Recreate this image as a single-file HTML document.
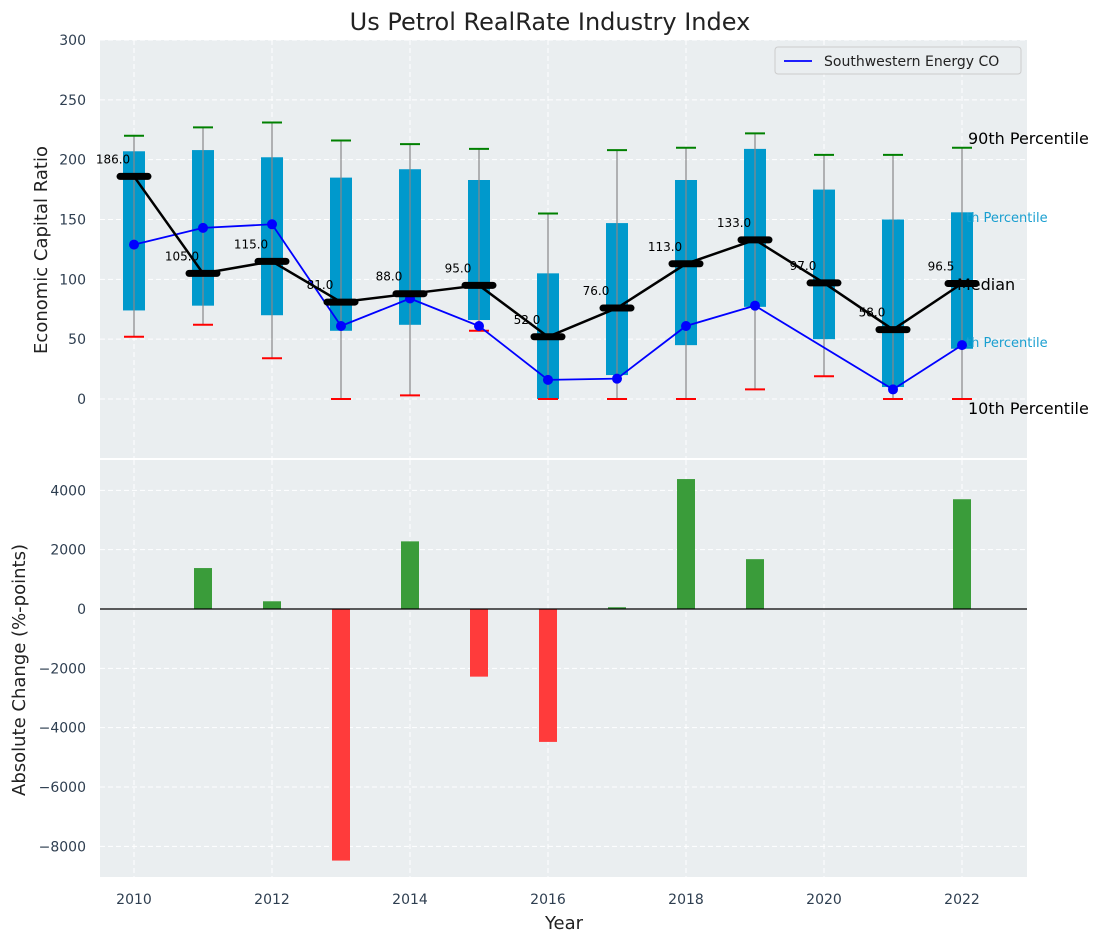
<!DOCTYPE html>
<html><head><meta charset="utf-8"><style>
body{margin:0;background:#fff;font-family:"Liberation Sans","DejaVu Sans",sans-serif;}
svg text{font-family:"DejaVu Sans","Liberation Sans",sans-serif;}
</style></head><body>
<svg id="c" width="1103" height="942" xmlns="http://www.w3.org/2000/svg"></svg>
<script>
const years=[2010,2011,2012,2013,2014,2015,2016,2017,2018,2019,2020,2021,2022];
const p10=[52,62,34,0,3,57,0,0,0,8,19,0,0];
const p90=[220,227,231,216,213,209,155,208,210,222,204,204,210];
const p25=[74,78,70,57,62,66,0,20,45,77,50,10,42];
const p75=[207,208,202,185,192,183,105,147,183,209,175,150,156];
const medians=[186,105,115,81,88,95,52,76,113,133,97,58,96.5];
const company=[129,143,146,61,84,61,16,17,61,78,null,8,45];
const changes=[0,1380,260,-8480,2280,-2280,-4480,60,4380,1680,0,0,3700];
const yTicksTop=[0,50,100,150,200,250,300];
const yTicksBot=[-8000,-6000,-4000,-2000,0,2000,4000];
const xTicks=[2010,2012,2014,2016,2018,2020,2022];

const NS="http://www.w3.org/2000/svg";
const svg=document.getElementById('c');
function el(t,a,txt){const e=document.createElementNS(NS,t);for(const k in a)e.setAttribute(k,a[k]);if(txt!==undefined)e.textContent=txt;svg.appendChild(e);return e;}
const X=y=>134+(y-2010)*69;
const L=100,R=1027;
const yT=v=>399-v*1.1967;
const yB=v=>609-v*0.029667;

let e;
e=el('rect',{x:L,y:40,width:R-L,height:418,fill:'#eaeef0'});

e=el('rect',{x:L,y:460,width:R-L,height:417,fill:'#eaeef0'});


yTicksTop.forEach(v=>{
  e=el('line',{x1:L,x2:R,y1:yT(v),y2:yT(v),stroke:'#fff','stroke-dasharray':'5,3','stroke-width':1});
  
  e=el('text',{x:L-14,y:yT(v)+5,'text-anchor':'end','font-size':14,fill:'#2e3e50'},v);
  
});
yTicksBot.forEach(v=>{
  e=el('line',{x1:L,x2:R,y1:yB(v),y2:yB(v),stroke:'#fff','stroke-dasharray':'5,3','stroke-width':1});
  
  e=el('text',{x:L-14,y:yB(v)+5,'text-anchor':'end','font-size':14,fill:'#2e3e50'},(v<0?'\u2212'+(-v):v));
  
});
xTicks.forEach(v=>{
  [[40,458],[460,877]].forEach(r=>{
    e=el('line',{x1:X(v),x2:X(v),y1:r[0],y2:r[1],stroke:'#fff','stroke-dasharray':'5,3'});
    
  });
  e=el('text',{x:X(v),y:904,'text-anchor':'middle','font-size':14,fill:'#2e3e50'},v);
  
});

years.forEach((y,i)=>{
  const x=X(y);
  e=el('rect',{x:x-11,y:yT(p75[i]),width:22,height:yT(p25[i])-yT(p75[i]),fill:'#0099cc'});
  
  e=el('line',{x1:x,x2:x,y1:yT(p90[i]),y2:yT(p10[i]),stroke:'#888','stroke-width':1.2});
  
  e=el('line',{x1:x-10,x2:x+10,y1:yT(p90[i]),y2:yT(p90[i]),stroke:'green','stroke-width':2});
  
  e=el('line',{x1:x-10,x2:x+10,y1:yT(p10[i]),y2:yT(p10[i]),stroke:'red','stroke-width':2});
  
});

e=el('text',{x:966,y:222,'font-size':13,fill:'#1a9fd0'},'th Percentile');

e=el('text',{x:966,y:347,'font-size':13,fill:'#1a9fd0'},'th Percentile');


let pts=[];years.forEach((y,i)=>{if(company[i]!==null)pts.push(X(y)+','+yT(company[i]));});
e=el('polyline',{points:pts.join(' '),fill:'none',stroke:'blue','stroke-width':1.8});

years.forEach((y,i)=>{if(company[i]===null)return;
  e=el('circle',{cx:X(y),cy:yT(company[i]),r:5,fill:'blue'});
  
});

e=el('polyline',{points:years.map((y,i)=>X(y)+','+yT(medians[i])).join(' '),fill:'none',stroke:'#000','stroke-width':2.5});

years.forEach((y,i)=>{
  e=el('line',{x1:X(y)-14,x2:X(y)+14,y1:yT(medians[i]),y2:yT(medians[i]),stroke:'#000','stroke-width':7,'stroke-linecap':'round'});
  
  e=el('text',{x:X(y)-21,y:yT(medians[i])-13,'text-anchor':'middle','font-size':12,fill:'#000'},medians[i].toFixed(1));
  
});

e=el('text',{x:968,y:144,'font-size':16,fill:'#000'},'90th Percentile');

e=el('text',{x:957,y:290,'font-size':16,fill:'#000'},'Median');

e=el('text',{x:968,y:414,'font-size':16,fill:'#000'},'10th Percentile');


e=el('rect',{x:775,y:47,width:246,height:27,rx:3,fill:'#eaeef0',stroke:'#ccc'});

e=el('line',{x1:784,x2:812,y1:61,y2:61,stroke:'blue','stroke-width':1.8});

e=el('text',{x:824,y:66,'font-size':14,fill:'#222'},'Southwestern Energy CO');


years.forEach((y,i)=>{
  const v=changes[i];if(v===0)return;
  const y0=yB(Math.max(v,0)),y1=yB(Math.min(v,0));
  e=el('rect',{x:X(y)-9,y:y0,width:18,height:y1-y0,fill:v>0?'#3a9c3a':'#ff3b3b'});
  
});
e=el('line',{x1:L,x2:R,y1:yB(0),y2:yB(0),stroke:'#000','stroke-width':1.2});


e=el('text',{x:550,y:30,'text-anchor':'middle','font-size':24,fill:'#222'},'Us Petrol RealRate Industry Index');

e=el('text',{x:47,y:250,'text-anchor':'middle','font-size':18,fill:'#222',transform:'rotate(-90 47 250)'},'Economic Capital Ratio');

e=el('text',{x:25,y:670,'text-anchor':'middle','font-size':18,fill:'#222',transform:'rotate(-90 25 670)'},'Absolute Change (%-points)');

e=el('text',{x:564,y:929,'text-anchor':'middle','font-size':18,fill:'#222'},'Year');

</script>
</body></html>
